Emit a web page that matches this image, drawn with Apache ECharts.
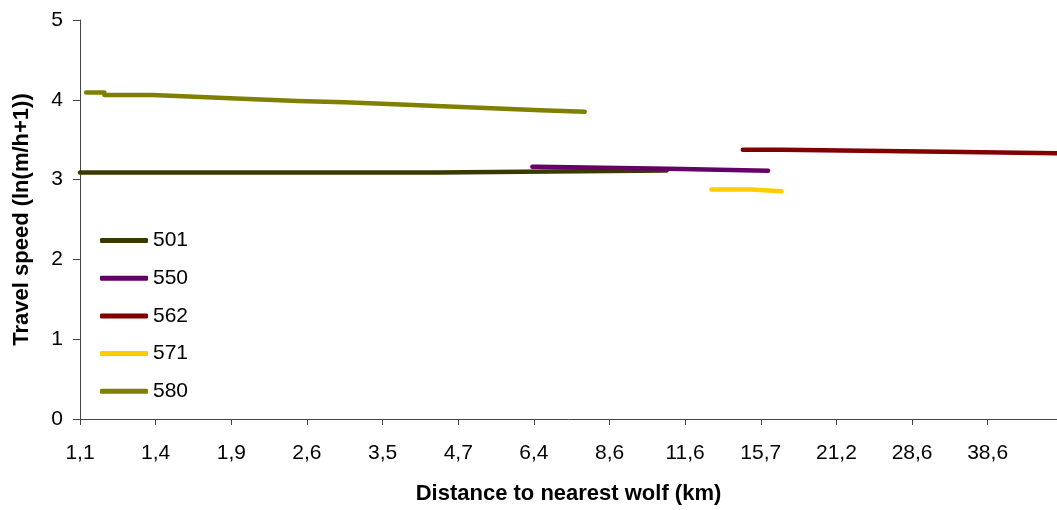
<!DOCTYPE html>
<html>
<head>
<meta charset="utf-8">
<script src="https://cdn.jsdelivr.net/npm/echarts@6/dist/echarts.min.js"></script>
<style>
html,body{margin:0;padding:0;background:#fff;}
#c{width:1057px;height:510px;}
</style>
</head>
<body>
<div id="c"></div>
<script>
// Tick positions on the (log-spaced) distance axis, km, and their labels
const tickValues = [1.054, 1.423, 1.921, 2.593, 3.500, 4.726, 6.379, 8.611, 11.62, 15.69, 21.18, 28.59, 38.58];
const tickLabels = ['1,1', '1,4', '1,9', '2,6', '3,5', '4,7', '6,4', '8,6', '11,6', '15,7', '21,2', '28,6', '38,6'];
const xMin = 1.054;
const xMax = 50.8;

// Series: distance (km) where each level starts (last entry = end of line) and the travel speed level
const dist501 = [1.054, 4.34, 10.8];
const speed501 = [3.09, 3.115];

const dist550 = [6.34, 6.45, 10.9, 16.15];
const speed550 = [3.16, 3.135, 3.11];

const dist562 = [14.61, 17.04, 32.35, 50.8];
const speed562 = [3.375, 3.35, 3.33];

const dist571 = [12.9, 15.12, 17.04];
const speed571 = [2.875, 2.855];

const dist580 = [1.08, 1.161, 1.405, 1.70, 2.056, 2.498, 3.01, 3.671, 4.441, 5.395, 6.553, 7.804];
const speed580 = [4.09, 4.06, 4.035, 4.01, 3.985, 3.97, 3.945, 3.92, 3.895, 3.87, 3.85];

const names = ['501', '550', '562', '571', '580'];
const colors = ['#3a3a00', '#660066', '#800000', '#ffcc00', '#808000'];
const dists = [dist501, dist550, dist562, dist571, dist580];
const speeds = [speed501, speed550, speed562, speed571, speed580];

const FONT = '"Liberation Sans", Arial, Helvetica, sans-serif';

function stepData(d, s) {
  const out = [];
  for (let j = 0; j < s.length; j++) {
    out.push([Math.log(d[j]), s[j]]);
    out.push([Math.log(d[j + 1]), s[j]]);
  }
  return out;
}

const series = names.map((n, i) => ({
  name: n,
  type: 'line',
  symbol: 'none',
  data: stepData(dists[i], speeds[i]),
  lineStyle: { color: colors[i], width: 4.5, cap: 'round', join: 'round' },
  itemStyle: { color: colors[i] },
  z: 2 + (i === 1 ? 1 : 0)
}));

const chart = echarts.init(document.getElementById('c'), null, { renderer: 'canvas' });
chart.setOption({
  animation: false,
  backgroundColor: '#fff',
  textStyle: { fontFamily: FONT },
  grid: { left: 80, right: 0, top: 20, bottom: 91, containLabel: false },
  legend: {
    orient: 'vertical',
    left: 100,
    top: 230,
    padding: 0,
    itemWidth: 48,
    itemHeight: 5,
    itemGap: 16.7,
    icon: 'roundRect',
    data: names,
    textStyle: { color: '#000', fontSize: 21, fontFamily: FONT }
  },
  xAxis: {
    type: 'value',
    min: Math.log(xMin),
    max: Math.log(xMax),
    name: 'Distance to nearest wolf (km)',
    nameLocation: 'middle',
    nameGap: 64,
    nameTextStyle: { color: '#000', fontSize: 22, fontWeight: 'bold', fontFamily: FONT },
    axisLine: { show: true, lineStyle: { color: '#444', width: 1 } },
    axisTick: { show: true, length: 6, lineStyle: { color: '#444' }, customValues: tickValues.map(v => Math.log(v)) },
    axisLabel: {
      color: '#000', fontSize: 21, margin: 24, fontFamily: FONT,
      customValues: tickValues.map(v => Math.log(v)),
      formatter: function (v) {
        let best = 0, bd = Infinity;
        tickValues.forEach((t, k) => { const dd = Math.abs(Math.log(t) - v); if (dd < bd) { bd = dd; best = k; } });
        return tickLabels[best];
      }
    },
    splitLine: { show: false }
  },
  yAxis: {
    type: 'value',
    min: 0,
    max: 5,
    interval: 1,
    name: 'Travel speed (ln(m/h+1))',
    nameLocation: 'middle',
    nameGap: 47,
    nameTextStyle: { color: '#000', fontSize: 22, fontWeight: 'bold', fontFamily: FONT },
    axisLine: { show: true, lineStyle: { color: '#444', width: 1 } },
    axisTick: { show: true, length: 7, lineStyle: { color: '#444' } },
    axisLabel: { color: '#000', fontSize: 21, margin: 17, fontFamily: FONT },
    splitLine: { show: false }
  },
  series: series
});
</script>
</body>
</html>
